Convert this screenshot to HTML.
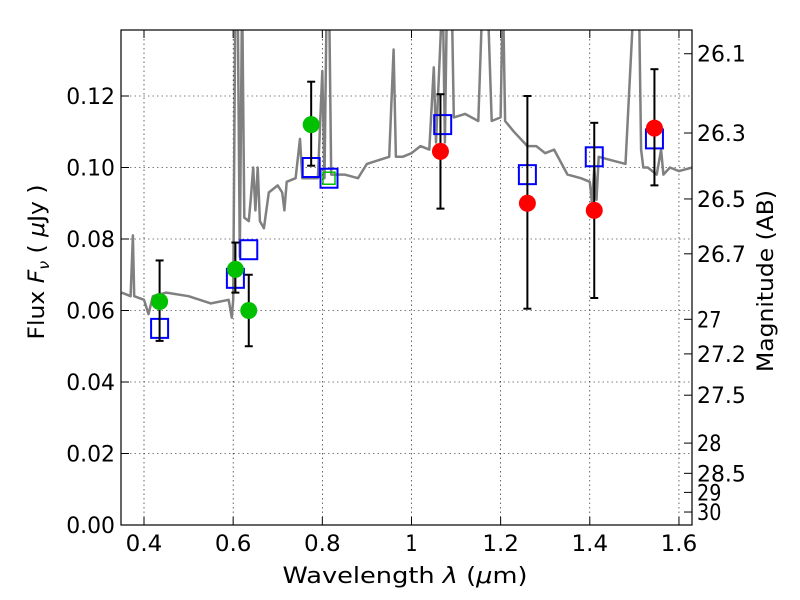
<!DOCTYPE html>
<html><head><meta charset="utf-8"><style>
body{margin:0;background:#fff}
svg{display:block;font-family:"DejaVu Sans","Liberation Sans",sans-serif}
</style></head><body>
<svg id="chart" width="800" height="600" viewBox="0 0 800 600" xmlns="http://www.w3.org/2000/svg">
<rect width="800" height="600" fill="#fff"/>
<defs><clipPath id="clip"><rect x="121" y="30" width="571" height="495"/></clipPath></defs>
<g id="grid"></g>
<g id="plot" clip-path="url(#clip)"></g>
<rect x="121" y="30" width="571" height="495" fill="none" stroke="#000" stroke-width="1.2"/>
<g id="axes"></g>
<text x="405" y="583" text-anchor="middle" font-size="22" textLength="245" lengthAdjust="spacingAndGlyphs">Wavelength  <tspan font-style="italic">λ</tspan> (<tspan font-style="italic">μ</tspan>m)</text>
<text transform="translate(44,262) rotate(-90)" text-anchor="middle" font-size="22" textLength="155" lengthAdjust="spacingAndGlyphs">Flux  <tspan font-style="italic">F</tspan><tspan font-style="italic" font-size="15" dy="5">ν</tspan><tspan dy="-5">  (  </tspan><tspan font-style="italic">μ</tspan>Jy )</text>
<text transform="translate(773,281) rotate(-90)" text-anchor="middle" font-size="22" textLength="182" lengthAdjust="spacingAndGlyphs">Magnitude (AB)</text>
</svg>
<script>
const specX=[0.35,0.37,0.375,0.378,0.40,0.41,0.42,0.45,0.50,0.55,0.59,0.597,0.60,0.605,0.61,0.615,0.62,0.625,0.635,0.64,0.645,0.65,0.655,0.66,0.669,0.68,0.70,0.71,0.715,0.72,0.74,0.75,0.755,0.78,0.79,0.80,0.805,0.81,0.815,0.82,0.85,0.88,0.90,0.95,0.96,0.965,0.98,1.0,1.02,1.04,1.05,1.055,1.07,1.075,1.08,1.09,1.095,1.12,1.15,1.16,1.17,1.18,1.20,1.205,1.21,1.23,1.26,1.28,1.30,1.32,1.35,1.38,1.40,1.405,1.41,1.415,1.42,1.45,1.48,1.50,1.51,1.515,1.52,1.53,1.55,1.56,1.565,1.58,1.60,1.63];
const specY=[0.065,0.064,0.081,0.064,0.063,0.059,0.064,0.065,0.064,0.062,0.063,0.058,0.063,0.15,0.15,0.075,0.15,0.086,0.085,0.092,0.100,0.088,0.100,0.085,0.083,0.093,0.095,0.093,0.088,0.096,0.097,0.108,0.097,0.097,0.097,0.127,0.097,0.15,0.15,0.098,0.098,0.097,0.101,0.103,0.133,0.103,0.103,0.104,0.106,0.105,0.128,0.107,0.15,0.107,0.15,0.15,0.114,0.115,0.113,0.15,0.15,0.113,0.114,0.15,0.113,0.110,0.106,0.106,0.104,0.105,0.098,0.097,0.096,0.090,0.100,0.091,0.103,0.102,0.101,0.15,0.15,0.105,0.100,0.100,0.098,0.105,0.098,0.100,0.099,0.100];
const boxX=[0.435,0.605,0.635,0.775,0.815,1.07,1.26,1.41,1.545];
const boxY=[0.055,0.069,0.077,0.100,0.097,0.112,0.098,0.103,0.108];
const greenX=[0.435,0.605,0.635,0.775];
const greenY=[0.0625,0.0715,0.060,0.112];
const greenLo=[0.0515,0.065,0.050,0.1005];
const greenHi=[0.074,0.079,0.070,0.124];
const redX=[1.065,1.26,1.41,1.545];
const redY=[0.1045,0.090,0.088,0.111];
const redLo=[0.0885,0.0605,0.0635,0.095];
const redHi=[0.1205,0.120,0.1125,0.1275];
const xTicks=[0.4,0.6,0.8,1.0,1.2,1.4,1.6];
const xTickLabels=["0.4","0.6","0.8","1","1.2","1.4","1.6"];
const yTicks=[0,0.02,0.04,0.06,0.08,0.10,0.12];
const yTickLabels=["0.00","0.02","0.04","0.06","0.08","0.10","0.12"];
const magTicks=[26.1,26.3,26.5,26.7,27,27.2,27.5,28,28.5,29,30];
const magLabels=["26.1","26.3","26.5","26.7","27","27.2","27.5","28","28.5","29","30"];

const NS="http://www.w3.org/2000/svg";
const X=v=>144+(v-0.4)*445.8;
const Y=v=>525-v*3575;
function mk(tag,attrs,parent){const e=document.createElementNS(NS,tag);for(const k in attrs)e.setAttribute(k,attrs[k]);parent.appendChild(e);return e;}
const grid=document.getElementById('grid'),plot=document.getElementById('plot'),axes=document.getElementById('axes');
function lbl(x,y,txt,anchor){
  const t=mk('text',{x:x,y:y,'text-anchor':anchor,'font-size':22,'textLength':txt.length*12.2,'lengthAdjust':'spacingAndGlyphs'},axes);
  t.textContent=txt;return t;
}
xTicks.forEach((t,i)=>{
  let g=mk('line',{x1:X(t),x2:X(t),y1:30,y2:525,stroke:'#000','stroke-width':0.6,'stroke-dasharray':'1.5,3'},grid);
  
  mk('line',{x1:X(t),x2:X(t),y1:525,y2:517,stroke:'#000'},axes);
  mk('line',{x1:X(t),x2:X(t),y1:30,y2:38,stroke:'#000'},axes);
  let tx=lbl(X(t),551,xTickLabels[i],'middle');
  
});
yTicks.forEach((t,i)=>{
  let g=mk('line',{x1:121,x2:692,y1:Y(t),y2:Y(t),stroke:'#000','stroke-width':0.6,'stroke-dasharray':'1.5,3'},grid);
  
  mk('line',{x1:121,x2:129,y1:Y(t),y2:Y(t),stroke:'#000'},axes);
  let tx=lbl(115,Y(t)+8,yTickLabels[i],'end');
  
});
magTicks.forEach((m,i)=>{
  const y=Y(Math.pow(10,(23.9-m)/2.5));
  mk('line',{x1:684,x2:692,y1:y,y2:y,stroke:'#000'},axes);
  let tx=lbl(697,y+8,magLabels[i],'start');
  
});

let d=specX.map((v,i)=>(i?'L':'M')+X(v).toFixed(1)+','+Y(specY[i]).toFixed(1)).join(' ');
let sp=mk('path',{d:d,fill:'none',stroke:'#808080','stroke-width':2.5,'stroke-linejoin':'round'},plot);


function err(xs,lo,hi){xs.forEach((x,i)=>{
  const g=mk('g',{stroke:'#000','stroke-width':2},plot);
  
  mk('line',{x1:X(x),x2:X(x),y1:Y(lo[i]),y2:Y(hi[i])},g);
  mk('line',{x1:X(x)-4,x2:X(x)+4,y1:Y(lo[i]),y2:Y(lo[i])},g);
  mk('line',{x1:X(x)-4,x2:X(x)+4,y1:Y(hi[i]),y2:Y(hi[i])},g);
});}
boxX.forEach((x,i)=>{
  let r=mk('rect',{x:X(x)-8.5,y:Y(boxY[i])-9.5,width:17,height:19,fill:'none',stroke:'#0000ff','stroke-width':2},plot);
  
});
let gs=mk('rect',{x:X(0.815)-6,y:Y(0.097)-6,width:12,height:12,fill:'none',stroke:'#00c000','stroke-width':1.5},plot);

err(greenX,greenLo,greenHi);err(redX,redLo,redHi);
greenX.forEach((x,i)=>{
  let c=mk('circle',{cx:X(x),cy:Y(greenY[i]),r:8.5,fill:'#00c000'},plot);
  
});
redX.forEach((x,i)=>{
  let c=mk('circle',{cx:X(x),cy:Y(redY[i]),r:8.5,fill:'#ff0000'},plot);
  
});
</script>
</body></html>
